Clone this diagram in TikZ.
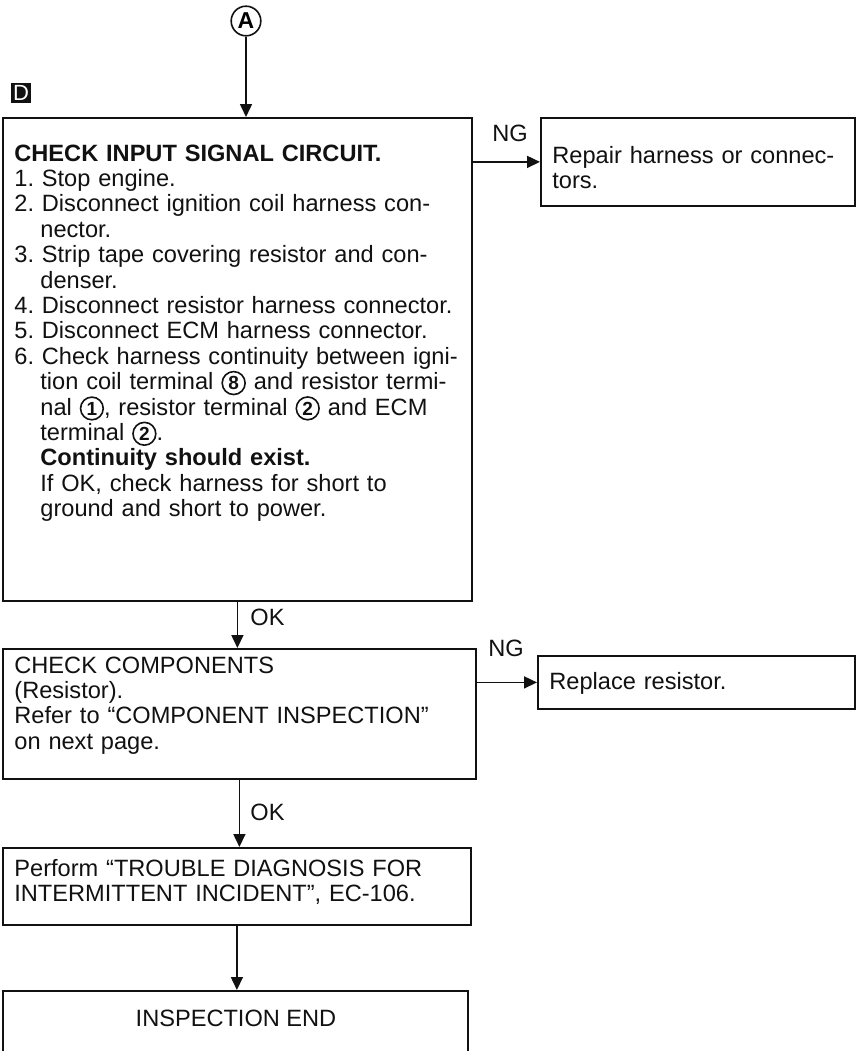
\documentclass[tikz,border=0pt]{standalone}
\usepackage{fontspec}
\setmainfont{Liberation Sans}
\usetikzlibrary{arrows.meta}
\definecolor{ink}{HTML}{111111}
\definecolor{paper}{HTML}{FFFFFF}
\frenchspacing

\newcommand\termno[1]{\tikz[baseline=(tn.base)]\node[circle,draw=ink,line width=0.8pt,inner sep=1.05pt,text width={},align=center,font=\bfseries\fontsize{9.5}{9.5}\selectfont] (tn) {#1};}
\newcommand\cont{\hspace*{13pt}}

\begin{document}
\begin{tikzpicture}[x=0.5pt,y=-0.5pt,font=\fontsize{11.8}{12.7}\selectfont,
  box/.style={draw=ink,line width=0.9pt,inner sep=0pt,anchor=north west,rectangle},
  txt/.style={anchor=base west,align=left,inner sep=0pt,text=ink},
  flow/.style={-{Triangle[length=6.5pt,width=6pt]},line width=0.8pt,ink},
  lbl/.style={anchor=base west,inner sep=0pt,text=ink},
  conn/.style={circle,draw=ink,line width=0.8pt,inner sep=1.2pt,minimum size=11.5pt,font=\bfseries\fontsize{11.5}{11.5}\selectfont},
  badge/.style={fill=ink,text=paper,inner sep=0pt,minimum size=10pt,font=\fontsize{11}{11}\selectfont}]
  \useasboundingbox (0,0) rectangle (857,1051);
  \clip (0,0) rectangle (857,1051);
  \fill[paper] (0,0) rectangle (857,1051);

  % ===== entry =====
  \node[conn] (conA) at (246,21) {A};
  \node[badge] (secD) at (21,93) {D};

  % ===== boxes =====
  \node[box,minimum width=234.5pt,minimum height=241.5pt] (chk) at (2,117) {};
  \node[box,minimum width=157pt,minimum height=44pt] (rep) at (540,117) {};
  \node[box,minimum width=236.5pt,minimum height=65pt] (comp) at (2,648) {};
  \node[box,minimum width=158.5pt,minimum height=26.5pt] (repl) at (537,655) {};
  \node[box,minimum width=234pt,minimum height=38.5pt] (perf) at (2,847) {};
  \node[box,minimum width=232.5pt,minimum height=40pt] (iend) at (2,990) {};

  % ===== texts =====
  \node[txt,text width=226pt] (chktxt) at (14,161) {\textbf{CHECK INPUT SIGNAL CIRCUIT.}\\
    1. Stop engine.\\
    2. Disconnect ignition coil harness con-\\
    \cont nector.\\
    3. Strip tape covering resistor and con-\\
    \cont denser.\\
    4. Disconnect resistor harness connector.\\
    5. Disconnect ECM harness connector.\\
    6. Check harness continuity between igni-\\
    \cont tion coil terminal \termno{8} and resistor termi-\\
    \cont nal \termno{1}, resistor terminal \termno{2} and ECM\\
    \cont terminal \termno{2}.\\
    \cont\textbf{Continuity should exist.}\\
    \cont If OK, check harness for short to\\
    \cont ground and short to power.};
  \node[txt,text width=150pt] (reptxt) at (552,163) {Repair harness or connec-\\tors.};
  \node[txt,text width=226pt] (comptxt) at (14,673) {CHECK COMPONENTS\\
    (Resistor).\\
    Refer to ``COMPONENT INSPECTION''\\
    on next page.};
  \node[txt,text width=150pt] (repltxt) at (549,689) {Replace resistor.};
  \node[txt,text width=226pt] (perftxt) at (14,876) {Perform ``TROUBLE DIAGNOSIS FOR\\
    INTERMITTENT INCIDENT'', EC-106.};
  \node[anchor=base,inner sep=0pt,text=ink] (iendtxt) at (236,1026) {INSPECTION END};

  % ===== flows =====
  \draw[flow] (conA) -- (conA |- chk.north);
  \draw[flow] (chk.east |- rep.west) -- (rep.west);
  \node[lbl] (ng1) at (492,141) {NG};
  \draw[flow] (chk.south) -- (chk.south |- comp.north);
  \node[lbl] (ok1) at (250,625) {OK};
  \draw[flow] (comp.east |- repl.west) -- (repl.west);
  \node[lbl] (ng2) at (488,656) {NG};
  \draw[flow] (comp.south) -- (comp.south |- perf.north);
  \node[lbl] (ok2) at (250,820) {OK};
  \draw[flow] (perf.south) -- (perf.south |- iend.north);
\end{tikzpicture}
\end{document}
